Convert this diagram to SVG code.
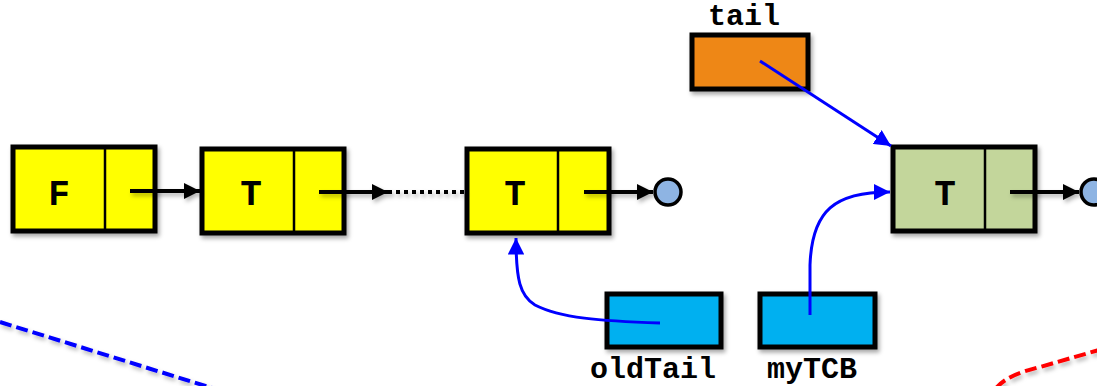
<svg xmlns="http://www.w3.org/2000/svg" width="1097" height="386" viewBox="0 0 1097 386">
  <defs>
    <filter id="shadow" x="-20%" y="-20%" width="140%" height="150%">
      <feDropShadow dx="2" dy="3" stdDeviation="2" flood-color="#000" flood-opacity="0.35"/>
    </filter>
    <!-- user-space region so straight horizontal lines still get a shadow -->
    <filter id="lineShadow" filterUnits="userSpaceOnUse" x="0" y="0" width="1097" height="386">
      <feDropShadow dx="2" dy="3" stdDeviation="2" flood-color="#000" flood-opacity="0.3"/>
    </filter>
    <marker id="ahBlack" viewBox="0 0 10 10" refX="10" refY="5" markerWidth="4" markerHeight="4" markerUnits="strokeWidth" orient="auto">
      <path d="M0,0 L10,5 L0,10 z" fill="#000"/>
    </marker>
    <marker id="ahBlue" viewBox="0 0 10 10" refX="10" refY="5" markerWidth="5.5" markerHeight="5.5" markerUnits="strokeWidth" orient="auto">
      <path d="M0,0 L10,5 L0,10 z" fill="#0000FF"/>
    </marker>
  </defs>
  <style>
    .box { stroke: #000; stroke-width: 5; filter: url(#shadow); }
    .div { stroke: #000; stroke-width: 2.5; }
    .yellow { fill: #FFFF00; }
    .green { fill: #C3D69B; }
    .orange { fill: #EE8717; }
    .cyan { fill: #00B0F0; }
    .lbl { font-family: "Liberation Mono", "Courier New", monospace; font-weight: bold; fill: #000; }
    .val { font-size: 36px; text-anchor: middle; }
    .name { font-size: 30px; text-anchor: middle; }
    .link { stroke: #000; stroke-width: 4; fill: none; marker-end: url(#ahBlack); }
    .ptr { stroke: #0000FF; stroke-width: 3; fill: none; marker-end: url(#ahBlue); }
    .nil { fill: #8EB4E3; stroke: #000; stroke-width: 3.5; }
  </style>

  <!-- background guide curves -->
  <g id="guides" filter="url(#lineShadow)">
    <path d="M0,322 L212,388" stroke="#0000FF" stroke-width="4" stroke-dasharray="12,5" fill="none"/>
    <path d="M996,388 C1006,377 1020,372 1040,367 L1099,350" stroke="#FF0000" stroke-width="4" stroke-dasharray="12,5" fill="none"/>
  </g>

  <!-- list nodes -->
  <g id="node-F">
    <rect class="box yellow" x="13" y="147" width="142" height="84"/>
    <line class="div" x1="105" y1="148" x2="105" y2="230"/>
    <text class="lbl val" x="59" y="205">F</text>
  </g>
  <g id="node-T1">
    <rect class="box yellow" x="202" y="149" width="142" height="84"/>
    <line class="div" x1="294" y1="150" x2="294" y2="232"/>
    <text class="lbl val" x="251" y="205">T</text>
  </g>
  <g id="node-T2">
    <rect class="box yellow" x="467" y="149" width="142" height="84"/>
    <line class="div" x1="558" y1="150" x2="558" y2="232"/>
    <text class="lbl val" x="515" y="205">T</text>
  </g>
  <g id="node-new">
    <rect class="box green" x="893" y="147" width="142" height="84"/>
    <line class="div" x1="985" y1="148" x2="985" y2="230"/>
    <text class="lbl val" x="945" y="205">T</text>
  </g>

  <!-- pointer variables -->
  <g id="var-tail">
    <rect class="box orange" x="692" y="35" width="116" height="54"/>
    <text class="lbl name" x="744" y="25">tail</text>
  </g>
  <g id="var-oldTail">
    <rect class="box cyan" x="607" y="294" width="114" height="53"/>
    <text class="lbl name" x="653" y="378">oldTail</text>
  </g>
  <g id="var-myTCB">
    <rect class="box cyan" x="760" y="294" width="115" height="53"/>
    <text class="lbl name" x="812" y="378">myTCB</text>
  </g>

  <!-- null terminators -->
  <g id="nil-1">
    <circle class="nil" cx="668" cy="192" r="13"/>
  </g>
  <g id="nil-2">
    <circle class="nil" cx="1094" cy="192" r="13"/>
  </g>

  <!-- connectors -->
  <g id="connectors">
    <g filter="url(#lineShadow)">
      <line class="link" x1="130" y1="191" x2="200" y2="191"/>
      <line class="link" x1="319" y1="192" x2="388" y2="192"/>
      <line x1="388" y1="192" x2="465" y2="192" stroke="#000" stroke-width="4" stroke-dasharray="4,4"/>
      <line class="link" x1="584" y1="192" x2="653" y2="192"/>
      <line class="link" x1="1010" y1="192" x2="1079" y2="192"/>
    </g>
    <line class="ptr" x1="760" y1="61" x2="891" y2="146"/>
    <path class="ptr" d="M810,315 L810,265 C812,210 835,192 890,192"/>
    <path class="ptr" d="M660,323 C600,321 560,318 535,305 C520,296 516,280 516,238"/>
  </g>
</svg>
